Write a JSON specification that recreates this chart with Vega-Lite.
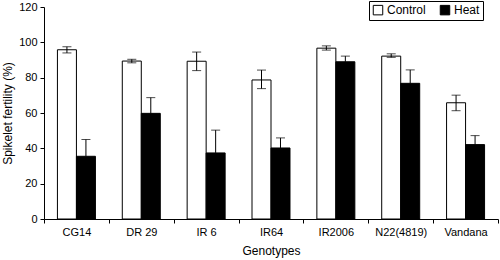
{
  "$schema": "https://vega.github.io/schema/vega-lite/v6.json",
  "autosize": {"type": "none"},
  "padding": {"left": 44, "top": 7, "right": 2, "bottom": 41},
  "width": 454,
  "height": 212,
  "background": "white",
  "config": {
    "view": {"stroke": null},
    "font": "Liberation Sans",
    "axis": {"domainColor": "black", "tickColor": "black", "labelColor": "black", "titleColor": "black", "grid": false, "labelFont": "Liberation Sans", "titleFont": "Liberation Sans", "titleFontWeight": "normal"},
    "axisY": {"values": [0, 20, 40, 60, 80, 100, 120], "labelOverlap": false, "labelFontSize": 11, "titleFontSize": 12, "tickSize": 4, "labelPadding": 3, "titlePadding": 4}
  },
  "data": {
    "values": [
      {"Genotype": "CG14", "Treatment": "Control", "value": 95.8, "lo": 94.0, "hi": 97.5},
      {"Genotype": "CG14", "Treatment": "Heat", "value": 35.5, "lo": 35.5, "hi": 45.0},
      {"Genotype": "DR 29", "Treatment": "Control", "value": 89.4, "lo": 88.4, "hi": 90.4},
      {"Genotype": "DR 29", "Treatment": "Heat", "value": 59.8, "lo": 59.8, "hi": 68.7},
      {"Genotype": "IR 6", "Treatment": "Control", "value": 89.3, "lo": 84.0, "hi": 94.5},
      {"Genotype": "IR 6", "Treatment": "Heat", "value": 37.4, "lo": 37.4, "hi": 50.3},
      {"Genotype": "IR64", "Treatment": "Control", "value": 78.7, "lo": 73.8, "hi": 84.3},
      {"Genotype": "IR64", "Treatment": "Heat", "value": 40.2, "lo": 40.2, "hi": 45.9},
      {"Genotype": "IR2006", "Treatment": "Control", "value": 96.7, "lo": 95.6, "hi": 98.0},
      {"Genotype": "IR2006", "Treatment": "Heat", "value": 89.0, "lo": 89.0, "hi": 92.2},
      {"Genotype": "N22(4819)", "Treatment": "Control", "value": 92.2, "lo": 91.5, "hi": 93.5},
      {"Genotype": "N22(4819)", "Treatment": "Heat", "value": 76.8, "lo": 76.8, "hi": 84.4},
      {"Genotype": "Vandana", "Treatment": "Control", "value": 65.8, "lo": 61.3, "hi": 70.1},
      {"Genotype": "Vandana", "Treatment": "Heat", "value": 42.1, "lo": 42.1, "hi": 47.2}
    ]
  },
  "encoding": {
    "x": {
      "field": "Genotype", "type": "nominal",
      "sort": ["CG14", "DR 29", "IR 6", "IR64", "IR2006", "N22(4819)", "Vandana"],
      "scale": {"paddingInner": 0, "paddingOuter": 0},
      "axis": {"title": "Genotypes", "labelAngle": 0, "labelFontSize": 11, "titleFontSize": 12, "tickBand": "extent", "tickSize": 4, "labelPadding": 3, "titlePadding": 8}
    },
    "xOffset": {
      "field": "Treatment", "type": "nominal",
      "sort": ["Control", "Heat"],
      "scale": {"paddingInner": 0, "paddingOuter": 0.707}
    }
  },
  "layer": [
    {
      "mark": {"type": "bar", "stroke": "black", "strokeWidth": 1},
      "encoding": {
        "y": {
          "field": "value", "type": "quantitative",
          "scale": {"domain": [0, 120], "nice": false},
          "axis": {"title": "Spikelet fertility (%)"}
        },
        "fill": {
          "field": "Treatment", "type": "nominal",
          "scale": {"domain": ["Control", "Heat"], "range": ["white", "black"]},
          "legend": {
            "title": null, "orient": "none", "legendX": 325, "legendY": -6,
            "direction": "horizontal", "symbolType": "square", "symbolSize": 90,
            "symbolStrokeColor": "black", "symbolStrokeWidth": 1,
            "labelFontSize": 12, "labelColor": "black", "labelFont": "Liberation Sans",
            "strokeColor": "black", "padding": 3, "columnPadding": 12, "labelOffset": 3,
            "fillColor": "white"
          }
        }
      }
    },
    {
      "mark": {"type": "rule", "color": "black", "strokeWidth": 1},
      "encoding": {
        "y": {"field": "lo", "type": "quantitative", "axis": {"title": "Spikelet fertility (%)"}},
        "y2": {"field": "hi"}
      }
    },
    {
      "mark": {"type": "tick", "color": "black", "size": 9, "thickness": 1},
      "encoding": {
        "y": {"field": "hi", "type": "quantitative", "axis": {"title": "Spikelet fertility (%)"}}
      }
    },
    {
      "transform": [{"filter": "datum.Treatment === 'Control'"}],
      "mark": {"type": "tick", "color": "black", "size": 9, "thickness": 1},
      "encoding": {
        "y": {"field": "lo", "type": "quantitative", "axis": {"title": "Spikelet fertility (%)"}}
      }
    }
  ]
}
